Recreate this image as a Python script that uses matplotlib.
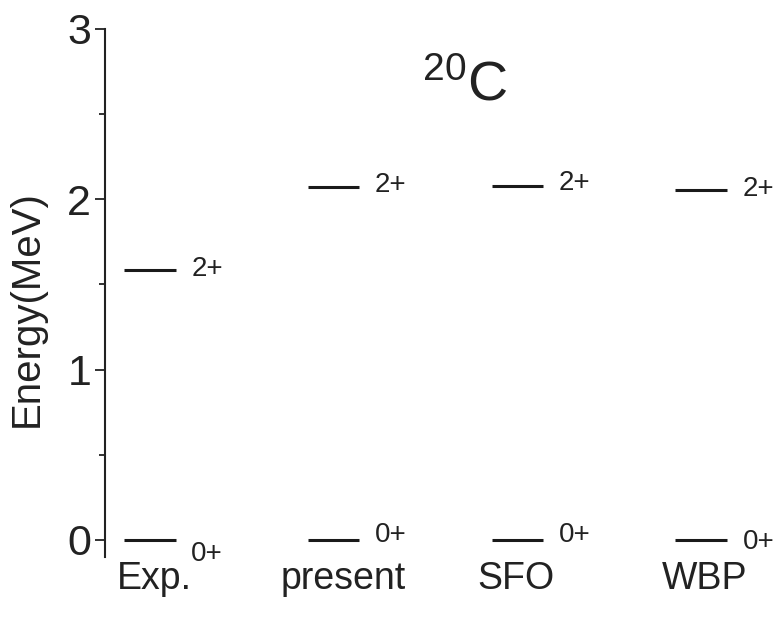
#!/usr/bin/env python3

import matplotlib
matplotlib.use("Agg")
import matplotlib.pyplot as plt
from matplotlib.ticker import MultipleLocator

# Level energies (MeV) for 20C.
MODELS = ["Exp.", "present", "SFO", "WBP"]
E_GROUND = [0.0, 0.0, 0.0, 0.0]
E_FIRST = [1.585, 2.075, 2.08, 2.055]
SPINS = ["0+", "2+"]

plt.rcParams["font.family"] = ["Liberation Sans", "DejaVu Sans"]
plt.rcParams["mathtext.fontset"] = "custom"
plt.rcParams["mathtext.rm"] = "Liberation Sans"
plt.rcParams["mathtext.it"] = "Liberation Sans"

fig = plt.figure(figsize=(7.74, 6.17), dpi=100)
ax = fig.add_axes([0.1357, 0.0972, 0.8643, 0.8558])

HALF = 0.14     # half width of a level bar
LBL_DX = 0.225  # offset of the spin label from the bar centre
# vertical nudges of the spin labels (pixels, negative = down), as in the original
GROUND_NUDGE = [-14, 5, 5, -2]
FIRST_NUDGE = [1, 2, 3, 1]

for i, model in enumerate(MODELS):
    for e, spin, dy in ((E_GROUND[i], SPINS[0], GROUND_NUDGE[i]),
                        (E_FIRST[i], SPINS[1], FIRST_NUDGE[i])):
        ax.plot([i - HALF, i + HALF], [e, e], color="#1a1a1a", lw=2.2,
                solid_capstyle="butt")
        ax.annotate(spin, (i + LBL_DX, e), xytext=(0, dy * 0.72),
                    textcoords="offset points", fontsize=20, ha="left",
                    va="center", color="#222222")

ax.set_xlim(-0.245, 3.397)
ax.set_ylim(-0.1, 3.0)

# Only the left spine is kept.
for side in ("top", "right", "bottom"):
    ax.spines[side].set_visible(False)
ax.spines["left"].set_linewidth(1.5)
ax.spines["left"].set_color("#222222")

ax.yaxis.set_major_locator(MultipleLocator(1))
ax.yaxis.set_minor_locator(MultipleLocator(0.5))
ax.tick_params(axis="y", which="major", length=7, width=1.3, labelsize=31,
               pad=3, colors="#222222")
ax.tick_params(axis="y", which="minor", length=4, width=1.3, colors="#222222")

ax.set_xticks(range(len(MODELS)))
ax.set_xticklabels(MODELS)
ax.tick_params(axis="x", length=0, labelsize=27, pad=3, colors="#222222")
for lbl, dx in zip(ax.get_xticklabels(), (4, 10, -2, 4)):
    lbl.set_transform(lbl.get_transform() +
                      matplotlib.transforms.ScaledTranslation(dx / 100, 0, fig.dpi_scale_trans))

ax.set_ylabel("Energy(MeV)", fontsize=29, color="#222222")
ax.yaxis.set_label_coords(-0.088, 0.47)

ax.text(1.71, 2.66, r"$^{20}$C", fontsize=40, ha="center", va="center",
        color="#222222")

plt.savefig("out.png", dpi=100)
